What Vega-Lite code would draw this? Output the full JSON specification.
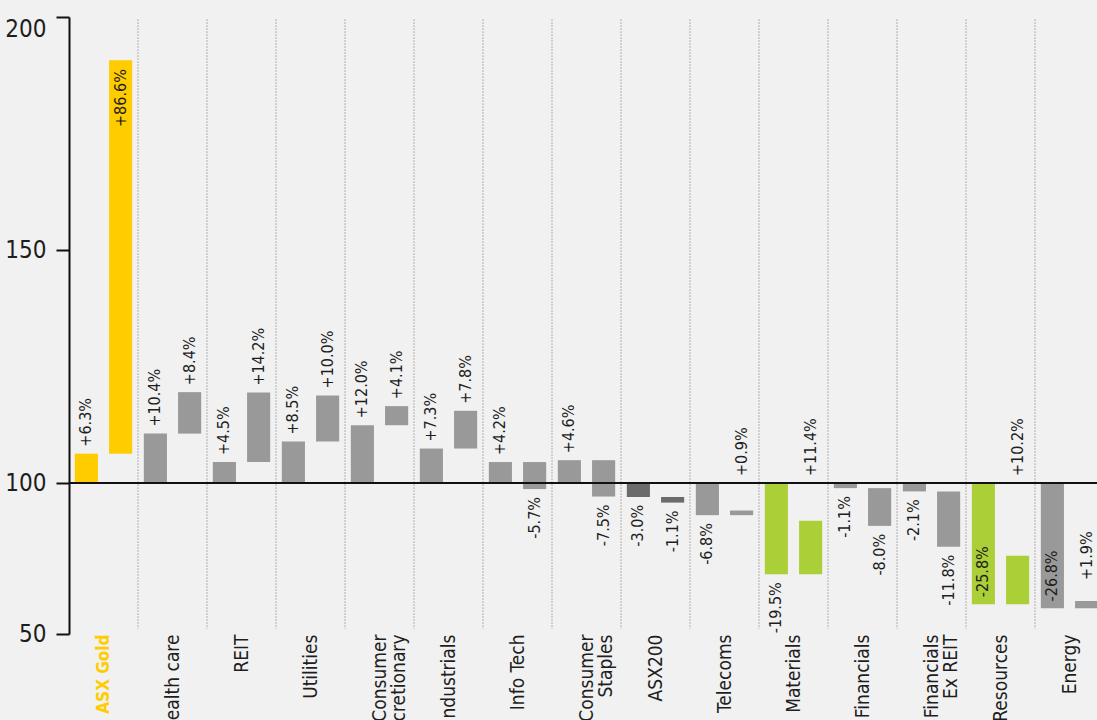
{
  "$schema": "https://vega.github.io/schema/vega-lite/v6.json",
  "width": 1028,
  "height": 617,
  "autosize": {"type": "none"},
  "padding": {"left": 69, "top": 17, "right": 0, "bottom": 86},
  "background": "#F1F1F1",
  "config": {"view": {"stroke": null}, "font": "DejaVu Sans Condensed, Roboto"},
  "resolve": {"axis": {"x": "independent", "y": "independent"}},
  "datasets": {
    "bars": [
      {"sector": "ASX Gold", "period": 1, "start": 100, "end": 106.3, "label": "+6.3%"},
      {"sector": "ASX Gold", "period": 2, "start": 106.3, "end": 190.7, "label": "+86.6%"},
      {"sector": "Health care", "period": 1, "start": 100, "end": 110.6, "label": "+10.4%"},
      {"sector": "Health care", "period": 2, "start": 110.6, "end": 119.5, "label": "+8.4%"},
      {"sector": "REIT", "period": 1, "start": 100, "end": 104.5, "label": "+4.5%"},
      {"sector": "REIT", "period": 2, "start": 104.5, "end": 119.4, "label": "+14.2%"},
      {"sector": "Utilities", "period": 1, "start": 100, "end": 108.9, "label": "+8.5%"},
      {"sector": "Utilities", "period": 2, "start": 108.9, "end": 118.8, "label": "+10.0%"},
      {"sector": "Consumer Discretionary", "period": 1, "start": 100, "end": 112.4, "label": "+12.0%"},
      {"sector": "Consumer Discretionary", "period": 2, "start": 112.4, "end": 116.5, "label": "+4.1%"},
      {"sector": "Industrials", "period": 1, "start": 100, "end": 107.4, "label": "+7.3%"},
      {"sector": "Industrials", "period": 2, "start": 107.4, "end": 115.5, "label": "+7.8%"},
      {"sector": "Info Tech", "period": 1, "start": 100, "end": 104.5, "label": "+4.2%"},
      {"sector": "Info Tech", "period": 2, "start": 104.5, "end": 98.7, "label": "-5.7%"},
      {"sector": "Consumer Staples", "period": 1, "start": 100, "end": 104.9, "label": "+4.6%"},
      {"sector": "Consumer Staples", "period": 2, "start": 104.9, "end": 97.1, "label": "-7.5%"},
      {"sector": "ASX200", "period": 1, "start": 100, "end": 97.0, "label": "-3.0%"},
      {"sector": "ASX200", "period": 2, "start": 97.0, "end": 95.8, "label": "-1.1%"},
      {"sector": "Telecoms", "period": 1, "start": 100, "end": 93.1, "label": "-6.8%"},
      {"sector": "Telecoms", "period": 2, "start": 93.1, "end": 94.1, "label": "+0.9%"},
      {"sector": "Materials", "period": 1, "start": 100, "end": 80.4, "label": "-19.5%"},
      {"sector": "Materials", "period": 2, "start": 80.4, "end": 91.9, "label": "+11.4%"},
      {"sector": "Financials", "period": 1, "start": 100, "end": 98.9, "label": "-1.1%"},
      {"sector": "Financials", "period": 2, "start": 98.9, "end": 90.8, "label": "-8.0%"},
      {"sector": "Financials Ex REIT", "period": 1, "start": 100, "end": 98.2, "label": "-2.1%"},
      {"sector": "Financials Ex REIT", "period": 2, "start": 98.2, "end": 86.3, "label": "-11.8%"},
      {"sector": "Resources", "period": 1, "start": 100, "end": 74.0, "label": "-25.8%"},
      {"sector": "Resources", "period": 2, "start": 74.0, "end": 84.4, "label": "+10.2%"},
      {"sector": "Energy", "period": 1, "start": 100, "end": 73.1, "label": "-26.8%"},
      {"sector": "Energy", "period": 2, "start": 73.1, "end": 74.7, "label": "+1.9%"}
    ],
    "dividers": [
      {"sector": "Health care"}, {"sector": "REIT"}, {"sector": "Utilities"},
      {"sector": "Consumer Discretionary"}, {"sector": "Industrials"}, {"sector": "Info Tech"},
      {"sector": "Consumer Staples"}, {"sector": "ASX200"}, {"sector": "Telecoms"},
      {"sector": "Materials"}, {"sector": "Financials"}, {"sector": "Financials Ex REIT"},
      {"sector": "Resources"}, {"sector": "Energy"}
    ]
  },
  "layer": [
    {
      "data": {"name": "dividers"},
      "mark": {"type": "rule", "color": "#9a9a9a", "strokeWidth": 1, "strokeDash": [1.5, 1.5]},
      "encoding": {
        "x": {"field": "sector", "type": "nominal", "bandPosition": 0, "axis": null,
              "scale": {"domain": ["ASX Gold", "Health care", "REIT", "Utilities", "Consumer Discretionary", "Industrials", "Info Tech", "Consumer Staples", "ASX200", "Telecoms", "Materials", "Financials", "Financials Ex REIT", "Resources", "Energy"], "range": [0, 1035], "paddingInner": 0, "paddingOuter": 0}},
        "y": {"datum": 199.5, "type": "quantitative", "axis": null},
        "y2": {"datum": 68.7}
      }
    },
    {
      "data": {"name": "bars"},
      "mark": {"type": "bar"},
      "encoding": {
        "x": {"field": "sector", "type": "nominal", "sort": null,
              "scale": {"domain": ["ASX Gold", "Health care", "REIT", "Utilities", "Consumer Discretionary", "Industrials", "Info Tech", "Consumer Staples", "ASX200", "Telecoms", "Materials", "Financials", "Financials Ex REIT", "Resources", "Energy"], "range": [0, 1035], "paddingInner": 0, "paddingOuter": 0},
              "axis": {"title": null, "domain": false, "ticks": false, "labelAngle": -90, "labelAlign": "right", "labelBaseline": "middle", "labelPadding": 0, "labelLineHeight": 19,
                       "labelFontSize": {"condition": {"test": "datum.value == 'ASX Gold'", "value": 17}, "value": 19},
                       "labelColor": {"condition": {"test": "datum.value == 'ASX Gold'", "value": "#FFCC00"}, "value": "#1e1e1e"},
                       "labelFontWeight": {"condition": {"test": "datum.value == 'ASX Gold'", "value": "bold"}, "value": "normal"},
                       "labelExpr": "datum.value == 'Financials Ex REIT' ? ['Financials', 'Ex REIT'] : datum.value == 'Consumer Discretionary' ? ['Consumer', 'Discretionary'] : datum.value == 'Consumer Staples' ? ['Consumer', 'Staples'] : datum.value",
                       "labelOverlap": false, "labelBound": false}},
        "xOffset": {"field": "period", "type": "nominal", "scale": {"paddingInner": 0.325, "paddingOuter": 0.17}},
        "y": {"field": "start", "type": "quantitative",
              "scale": {"domain": [67.6, 200], "nice": false, "zero": false},
              "axis": {"title": null, "values": [67.6, 100, 150, 200], "grid": false,
                       "labelExpr": "datum.value < 70 ? '50' : datum.label",
                       "labelFontSize": 24, "labelColor": "#1e1e1e", "labelPadding": 10,
                       "labelOffset": {"condition": {"test": "datum.value >= 199", "value": 12}, "value": 0},
                       "tickSize": 13, "tickColor": "#111111", "tickWidth": 2,
                       "domainColor": "#111111", "domainWidth": 2}},
        "y2": {"field": "end"},
        "color": {"field": "sector", "type": "nominal", "legend": null,
                  "scale": {"domain": ["ASX Gold", "Health care", "REIT", "Utilities", "Consumer Discretionary", "Industrials", "Info Tech", "Consumer Staples", "ASX200", "Telecoms", "Materials", "Financials", "Financials Ex REIT", "Resources", "Energy"],
                            "range": ["#FFCC00", "#999999", "#999999", "#999999", "#999999", "#999999", "#999999", "#999999", "#6B6B6B", "#999999", "#ABCF37", "#999999", "#999999", "#ABCF37", "#999999"]}}
      }
    },
    {
      "data": {"name": "bars"},
      "mark": {"type": "rule", "color": "#111111", "strokeWidth": 2},
      "encoding": {"y": {"datum": 100, "type": "quantitative", "axis": null}}
    },
    {
      "data": {"name": "bars"},
      "transform": [
        {"calculate": "datum.sector == 'ASX Gold' && datum.period == 2", "as": "inTop"},
        {"calculate": "(datum.sector == 'Resources' || datum.sector == 'Energy') && datum.period == 1", "as": "inBottom"},
        {"calculate": "datum.inTop ? false : datum.inBottom ? true : datum.end >= datum.start", "as": "up"},
        {"calculate": "datum.inTop ? datum.end - 1.9 : datum.inBottom ? datum.end + 1.5 : datum.end >= datum.start ? (datum.sector == 'Energy' ? datum.end + 4.5 : max(datum.end, 100) + 1.5) : datum.end - 1.7", "as": "ly"},
        {"filter": "datum.up"}
      ],
      "mark": {"type": "text", "angle": 270, "align": "left", "baseline": "middle", "fontSize": 16, "color": "#1e1e1e"},
      "encoding": {
        "x": {"field": "sector", "type": "nominal", "axis": null},
        "xOffset": {"field": "period", "type": "nominal"},
        "y": {"field": "ly", "type": "quantitative", "axis": null},
        "text": {"field": "label"}
      }
    },
    {
      "data": {"name": "bars"},
      "transform": [
        {"calculate": "datum.sector == 'ASX Gold' && datum.period == 2", "as": "inTop"},
        {"calculate": "(datum.sector == 'Resources' || datum.sector == 'Energy') && datum.period == 1", "as": "inBottom"},
        {"calculate": "datum.inTop ? false : datum.inBottom ? true : datum.end >= datum.start", "as": "up"},
        {"calculate": "datum.inTop ? datum.end - 1.9 : datum.end - 1.7", "as": "ly"},
        {"filter": "!datum.up"}
      ],
      "mark": {"type": "text", "angle": 270, "align": "right", "baseline": "middle", "fontSize": 16, "color": "#1e1e1e"},
      "encoding": {
        "x": {"field": "sector", "type": "nominal", "axis": null},
        "xOffset": {"field": "period", "type": "nominal"},
        "y": {"field": "ly", "type": "quantitative", "axis": null},
        "text": {"field": "label"}
      }
    }
  ]
}
